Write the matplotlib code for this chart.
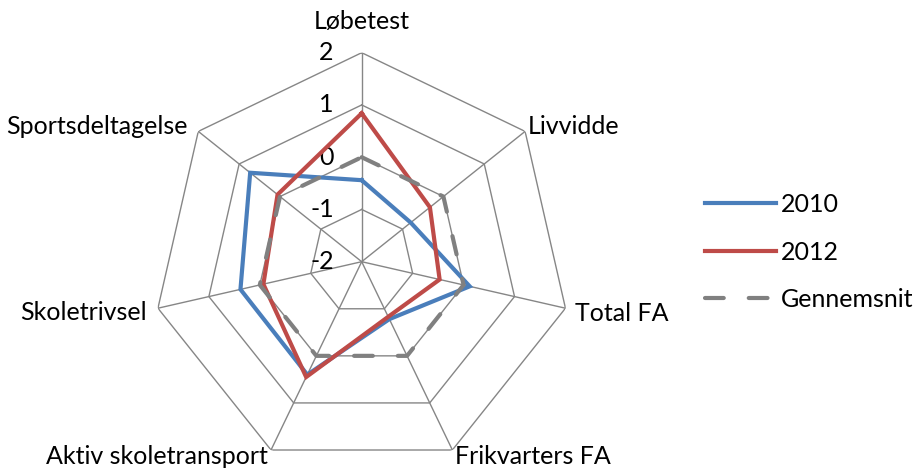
import numpy as np
import matplotlib
matplotlib.use("Agg")
import matplotlib.pyplot as plt

categories = ["Løbetest", "Livvidde", "Total FA", "Frikvarters FA",
              "Aktiv skoletransport", "Skoletrivsel", "Sportsdeltagelse"]
series_2010 = [-0.44, -0.80, 0.12, -0.78, 0.40, 0.38, 0.73]
series_2012 = [0.84, -0.33, -0.47, -0.83, 0.45, -0.07, 0.06]
series_avg = [0, 0, 0, 0, 0, 0, 0]
series_names = ["2010", "2012", "Gennemsnit"]
r_ticks = [-2, -1, 0, 1, 2]

plt.rcParams['font.family'] = ['Lato', 'DejaVu Sans']
FS = 18

W, H = 916, 470
fig = plt.figure(figsize=(W / 100, H / 100), dpi=100)
cx, cy, R = 361.7, 261.7, 209
ax = fig.add_axes([(cx - R) / W, (H - cy - R) / H, 2 * R / W, 2 * R / H], projection='polar')
ax.set_theta_zero_location('N')
ax.set_theta_direction(-1)
ax.set_ylim(r_ticks[0], r_ticks[-1])
ax.grid(False)
ax.spines['polar'].set_visible(False)
ax.set_xticks([])
ax.set_yticks([])
ax.patch.set_alpha(0)

n = len(categories)
theta = np.arange(n) * 2 * np.pi / n
theta_c = np.append(theta, theta[0])

grid_col = '#868686'
for v in r_ticks[1:]:
    ax.plot(theta_c, [v] * (n + 1), color=grid_col, lw=1.0, zorder=1)
for t in theta:
    ax.plot([t, t], [r_ticks[0], r_ticks[-1]], color=grid_col, lw=1.0, zorder=1)

def closed(vals):
    return list(vals) + [vals[0]]

ax.plot(theta_c, closed(series_2010), color='#4A7EBB', lw=3.0, zorder=3,
        solid_joinstyle='miter', label=series_names[0])
ax.plot(theta_c, closed(series_2012), color='#BE4B48', lw=3.0, zorder=4,
        solid_joinstyle='miter', label=series_names[1])
ax.plot(theta_c, closed(series_avg), color='#808080', lw=3.0, zorder=5,
        dashes=(4.5, 6), dash_capstyle='round', label=series_names[2])

px = 0.72  # points per pixel
offsets = [(0, 31, 'center', 'center'), (3, 4.5, 'left', 'center'),
           (10, -5, 'left', 'center'), (3, -6, 'left', 'center'),
           (-3, -6, 'right', 'center'), (-11, -4, 'right', 'center'),
           (-11, 4.5, 'right', 'center')]
for t, lab, (dx, dy, ha, va) in zip(theta, categories, offsets):
    ax.annotate(lab, xy=(t, r_ticks[-1]), xytext=(dx * px, dy * px),
                textcoords='offset points', ha=ha, va=va, fontsize=FS,
                annotation_clip=False)

for v in r_ticks:
    ax.annotate(str(v), xy=(0, v), xytext=(-28 * px, 0),
                textcoords='offset points', ha='right', va='center',
                fontsize=FS, annotation_clip=False)

leg = fig.legend(loc='upper left', bbox_to_anchor=(705 / W, 1 - 193 / H),
                 frameon=False, fontsize=FS, handlelength=2.84,
                 handletextpad=0.2, labelspacing=0.98, borderpad=0,
                 borderaxespad=0)

fig.savefig('out.png', dpi=100)
